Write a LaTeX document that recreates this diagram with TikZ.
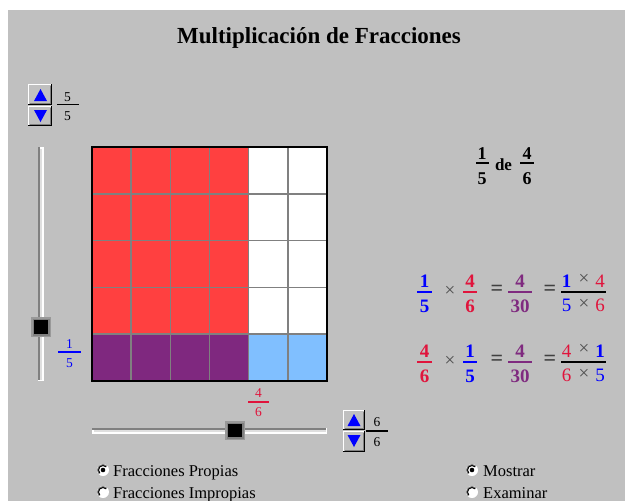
\documentclass[tikz,border=0pt]{standalone}
\usepackage{fontspec}
\setmainfont{Liberation Serif}
\definecolor{bg}{HTML}{C0C0C0}
\definecolor{cellred}{HTML}{FF4040}
\definecolor{cellpurple}{HTML}{7F287F}
\definecolor{cellblue}{HTML}{80BFFF}
\definecolor{gridgray}{HTML}{808080}
\definecolor{dkgray}{HTML}{808080}
\definecolor{ltrack}{HTML}{DFDFDF}
\definecolor{thumbgray}{HTML}{999999}
\definecolor{txtred}{HTML}{E0143C}
\definecolor{txtblue}{HTML}{0000FF}
\definecolor{txtpurple}{HTML}{7F2A7F}
\definecolor{opgray}{HTML}{505050}
\definecolor{eqgray}{HTML}{404040}
\newcommand\mkbtn[4]{%
  \fill[bg] (#1,#2) rectangle (#3,#4);
  \draw[white,line width=1pt] (#1+0.5,#4-1) -- (#1+0.5,#2+0.5) -- (#3-1,#2+0.5);
  \draw[black,line width=1pt] (#1,#4-0.5) -- (#3-0.5,#4-0.5) -- (#3-0.5,#2);
  \draw[dkgray,line width=1pt] (#1+1.5,#4-1.5) -- (#3-1.5,#4-1.5) -- (#3-1.5,#2+1.5);
}
\newcommand\mkup[2]{\fill[txtblue] (#1-6.5,#2+6) -- (#1+6.5,#2+6) -- (#1,#2-6) -- cycle;}
\newcommand\mkdown[2]{\fill[txtblue] (#1-6.5,#2-6) -- (#1+6.5,#2-6) -- (#1,#2+6) -- cycle;}
\newcommand\mkradio[3]{%
  \fill[white] (#1,#2) circle[radius=6];
  \draw[dkgray,line width=1pt] (#1,#2) ++(-45:5.5) arc[start angle=-45,end angle=-225,radius=5.5];
  \draw[black,line width=1pt] (#1,#2) ++(-45:4.5) arc[start angle=-45,end angle=-225,radius=4.5];
  \fill[#3] (#1,#2) circle[radius=2.3];
}
\begin{document}
\begin{tikzpicture}[x=1pt,y=-1pt,
  bignum/.style={inner sep=0pt,font=\fontsize{19}{19}\selectfont\bfseries},
  regnum/.style={inner sep=0pt,font=\fontsize{19}{19}\selectfont},
  smallnum/.style={inner sep=0pt,font=\fontsize{13.5}{13.5}\selectfont},
  timesop/.style={inner sep=0pt,text=opgray,font=\fontsize{19}{19}\selectfont},
  eqop/.style={inner sep=0pt,text=eqgray,font=\fontsize{22}{22}\selectfont\bfseries},
  fracbar/.style={line width=2pt},
  smallbar/.style={line width=1.3pt},
  optlabel/.style={inner sep=0pt,anchor=base west,font=\fontsize{16.5}{16.5}\selectfont},
]
\useasboundingbox (0,0) rectangle (625,501);
\fill[white] (0,0) rectangle (625,501);
\fill[bg] (8,10) rectangle (625,501);

% title
\node[inner sep=0pt,anchor=base,font=\fontsize{23}{23}\selectfont\bfseries] (title) at (319,43) {Multiplicación de Fracciones};

% grid
\fill[cellred] (92,147) rectangle (248.7,334.2);
\fill[white] (248.7,147) rectangle (327,334.2);
\fill[cellpurple] (92,334.2) rectangle (248.7,381);
\fill[cellblue] (248.7,334.2) rectangle (327,381);
\foreach \i in {1,...,5} \draw[gridgray,line width=1.5pt] ({92+\i*39.17},147) -- ({92+\i*39.17},381);
\foreach \j in {1,...,4} \draw[gridgray,line width=1.5pt] (92,{147+\j*46.8}) -- (327,{147+\j*46.8});
\draw[black,line width=2pt] (92,147) rectangle (327,381);

% top-left spinner
\mkbtn{28}{84}{52}{105}
\mkup{40.5}{95}
\mkbtn{28}{106}{52}{126}
\mkdown{40.5}{116}
\node[smallnum] (rn) at (67.5,97) {5};
\draw[smallbar] (57,104.5) -- (79,104.5);
\node[smallnum] (rd) at (67.5,116) {5};

% vertical slider
\fill[white] (38,147) rectangle (43.5,381);
\fill[dkgray] (38,147) rectangle (39.5,379.5);
\fill[ltrack] (39.5,148.5) rectangle (42,379.5);
\fill[thumbgray] (31,317) rectangle (51,337);
\fill[dkgray] (32.5,318.5) rectangle (49.5,335.5);
\fill[black] (34,320) rectangle (48,334);
\node[smallnum,text=txtblue] (vn) at (69.5,344) {1};
\draw[smallbar,txtblue] (58,352) -- (81,352);
\node[smallnum,text=txtblue] (vd) at (69.5,363) {5};

% horizontal slider
\node[smallnum,text=txtred] (hn) at (258.5,393) {4};
\draw[smallbar,txtred] (248,402) -- (269,402);
\node[smallnum,text=txtred] (hd) at (258.5,412) {6};
\fill[white] (92,428) rectangle (327,434);
\fill[dkgray] (92,428) rectangle (326,429.5);
\fill[ltrack] (93.5,429.5) rectangle (325.5,432);
\fill[thumbgray] (225,421) rectangle (245,440);
\fill[dkgray] (226.5,422.5) rectangle (243.5,438.5);
\fill[black] (228,424) rectangle (242,437);

% bottom-right spinner
\mkbtn{343}{410}{365}{430}
\mkup{354}{420}
\mkbtn{343}{431}{365}{452}
\mkdown{354}{441}
\node[smallnum] (cn) at (377,422.5) {6};
\draw[smallbar] (366,431) -- (388,431);
\node[smallnum] (cd) at (377,442) {6};

% "1/5 de 4/6"
\node[bignum,font=\fontsize{18}{18}\selectfont\bfseries] (dn1) at (482,154) {1};
\draw[fracbar] (476,163) -- (489,163);
\node[bignum,font=\fontsize{18}{18}\selectfont\bfseries] (dd1) at (482,179) {5};
\node[inner sep=0pt,anchor=base,font=\fontsize{17}{17}\selectfont\bfseries] (de) at (503.5,170) {de};
\node[bignum,font=\fontsize{18}{18}\selectfont\bfseries] (dn2) at (527,154) {4};
\draw[fracbar] (520,163) -- (534,163);
\node[bignum,font=\fontsize{18}{18}\selectfont\bfseries] (dd2) at (527,179) {6};

% equation row 1
\node[bignum,text=txtblue] (an1) at (424.5,281.5) {1};
\draw[fracbar,txtblue] (417,292) -- (432,292);
\node[bignum,text=txtblue] (ad1) at (424.5,306.5) {5};
\node[timesop] (ax1) at (450,291) {×};
\node[bignum,text=txtred] (an2) at (470,281.5) {4};
\draw[fracbar,txtred] (463,292) -- (477,292);
\node[bignum,text=txtred] (ad2) at (470,306.5) {6};
\node[eqop] (ae1) at (497,290) {=};
\node[bignum,text=txtpurple] (an3) at (520,281.5) {4};
\draw[fracbar,txtpurple] (508,292) -- (532,292);
\node[bignum,text=txtpurple] (ad3) at (520,306.5) {30};
\node[eqop] (ae2) at (550,290) {=};
\draw[fracbar,black] (561,292) -- (606,292);
\node[bignum,text=txtblue] (at1) at (566.5,281) {1};
\node[timesop] (at2) at (584,279.5) {×};
\node[regnum,text=txtred] (at3) at (600,281) {4};
\node[regnum,text=txtblue] (ab1) at (566.5,305.5) {5};
\node[timesop] (ab2) at (584,304) {×};
\node[regnum,text=txtred] (ab3) at (600,305.5) {6};

% equation row 2
\node[bignum,text=txtred] (bn1) at (424.5,351.5) {4};
\draw[fracbar,txtred] (417,362) -- (432,362);
\node[bignum,text=txtred] (bd1) at (424.5,376.5) {6};
\node[timesop] (bx1) at (450,361) {×};
\node[bignum,text=txtblue] (bn2) at (470,351.5) {1};
\draw[fracbar,txtblue] (463,362) -- (477,362);
\node[bignum,text=txtblue] (bd2) at (470,376.5) {5};
\node[eqop] (be1) at (497,360) {=};
\node[bignum,text=txtpurple] (bn3) at (520,351.5) {4};
\draw[fracbar,txtpurple] (508,362) -- (532,362);
\node[bignum,text=txtpurple] (bd3) at (520,376.5) {30};
\node[eqop] (be2) at (550,360) {=};
\draw[fracbar,black] (561,362) -- (606,362);
\node[regnum,text=txtred] (bt1) at (566.5,351) {4};
\node[timesop] (bt2) at (584,349.5) {×};
\node[bignum,text=txtblue] (bt3) at (600,351) {1};
\node[regnum,text=txtred] (bb1) at (566.5,375.5) {6};
\node[timesop] (bb2) at (584,374) {×};
\node[regnum,text=txtblue] (bb3) at (600,375.5) {5};

% radio buttons
\mkradio{103}{470}{black}
\node[optlabel] (op1) at (113,476) {Fracciones Propias};
\mkradio{103}{492}{white}
\node[optlabel] (op2) at (113,498) {Fracciones Impropias};
\mkradio{472}{470}{black}
\node[optlabel] (op3) at (483,476) {Mostrar};
\mkradio{472}{492}{white}
\node[optlabel] (op4) at (483,498) {Examinar};
\end{tikzpicture}
\end{document}
